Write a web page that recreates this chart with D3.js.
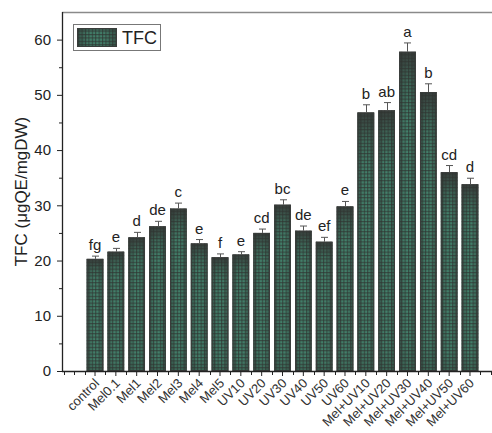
<!DOCTYPE html>
<html>
<head>
<meta charset="utf-8">
<script src="https://cdn.jsdelivr.net/npm/d3@7"></script>
<style>
  html, body { margin: 0; padding: 0; background: #fff; }
  svg { display: block; font-family: "Liberation Sans", Arial, sans-serif; }
</style>
</head>
<body>
<svg id="chart" width="492" height="433"></svg>
<script>
// Treatments along the x axis
const categories = ["control", "Mel0.1", "Mel1", "Mel2", "Mel3", "Mel4", "Mel5",
  "UV10", "UV20", "UV30", "UV40", "UV50", "UV60",
  "Mel+UV10", "Mel+UV20", "Mel+UV30", "Mel+UV40", "Mel+UV50", "Mel+UV60"];
// Mean total flavonoid content (μgQE/mgDW)
const tfcValues = [20.3, 21.6, 24.2, 26.2, 29.4, 23.1, 20.6,
  21.1, 25.0, 30.1, 25.4, 23.4, 29.8,
  46.8, 47.2, 57.8, 50.5, 36.0, 33.8];
// Standard error of each mean
const tfcErrors = [0.5, 0.6, 0.9, 0.9, 1.0, 0.7, 0.6,
  0.5, 0.7, 0.9, 0.85, 0.8, 0.9,
  1.4, 1.4, 1.6, 1.5, 1.2, 1.1];
// Significance letters
const sigLetters = ["fg", "e", "d", "de", "c", "e", "f",
  "e", "cd", "bc", "de", "ef", "e",
  "b", "ab", "a", "b", "cd", "d"];
const yTickValues = [0, 10, 20, 30, 40, 50, 60];
const yMinorValues = [5, 15, 25, 35, 45, 55];
const seriesName = "TFC";
const yTitle = "TFC (μgQE/mgDW)";

const svg = d3.select("#chart");
const plot = { left: 62, right: 491, top: 12, bottom: 371 };

const x = d3.scaleBand()
  .domain(categories)
  .range([84.6, 480.4])
  .paddingInner(0.2)
  .paddingOuter(0.1);
const y = d3.scaleLinear().domain([0, 65]).range([plot.bottom, plot.top]);

// ---- fills: dotted grid texture over a green/grey gradient ----
const defs = svg.append("defs");
const vGrad = defs.append("linearGradient").attr("id", "barV")
  .attr("x1", 0).attr("y1", 0).attr("x2", 0).attr("y2", 1);
[[0, "#383d3b"], [0.1, "#3d6a5a"], [0.2, "#427f6a"], [0.9, "#427f6a"], [1, "#3c6858"]]
  .forEach(([o, c]) => vGrad.append("stop").attr("offset", o).attr("stop-color", c));

const hGrad = defs.append("linearGradient").attr("id", "barH")
  .attr("x1", 0).attr("y1", 0).attr("x2", 1).attr("y2", 0);
[[0, "#2c302e", 0.55], [0.3, "#2c302e", 0.05], [0.5, "#2c302e", 0], [0.7, "#2c302e", 0.05], [1, "#2c302e", 0.55]]
  .forEach(([o, c, a]) => hGrad.append("stop").attr("offset", o).attr("stop-color", c).attr("stop-opacity", a));

const pat = defs.append("pattern").attr("id", "grid")
  .attr("patternUnits", "userSpaceOnUse").attr("width", 3.4).attr("height", 3.4);
pat.append("rect").attr("width", 3.4).attr("height", 1.1).attr("fill", "#2f3431").attr("opacity", 0.7);
pat.append("rect").attr("width", 1.1).attr("height", 3.4).attr("fill", "#2f3431").attr("opacity", 0.7);

function drawFilled(g, x0, y0, w, h) {
  g.append("rect").attr("x", x0).attr("y", y0).attr("width", w).attr("height", h).attr("fill", "url(#barV)");
  g.append("rect").attr("x", x0).attr("y", y0).attr("width", w).attr("height", h).attr("fill", "url(#barH)");
  g.append("rect").attr("x", x0).attr("y", y0).attr("width", w).attr("height", h).attr("fill", "url(#grid)");
  g.append("rect").attr("x", x0 + 0.5).attr("y", y0 + 0.5).attr("width", w - 1).attr("height", h - 1)
    .attr("fill", "none").attr("stroke", "#3a3d3b").attr("stroke-width", 1);
}

// ---- bars ----
const bars = svg.append("g");
categories.forEach((c, i) => {
  const g = bars.append("g");
  drawFilled(g, x(c), y(tfcValues[i]), x.bandwidth(), y(0) - y(tfcValues[i]));
});

// ---- error bars (upper only) ----
const errG = svg.append("g").attr("stroke", "#555").attr("stroke-width", 1);
categories.forEach((c, i) => {
  const cx = Math.round(x(c) + x.bandwidth() / 2) + 0.5;
  const top = y(tfcValues[i] + tfcErrors[i]);
  errG.append("line").attr("x1", cx).attr("x2", cx).attr("y1", y(tfcValues[i])).attr("y2", top);
  errG.append("line").attr("x1", cx - 3.5).attr("x2", cx + 3.5).attr("y1", top).attr("y2", top);
});

// ---- significance letters ----
svg.append("g").selectAll("text").data(categories).join("text")
  .attr("x", c => x(c) + x.bandwidth() / 2)
  .attr("y", (c, i) => y(tfcValues[i] + tfcErrors[i]) - 6)
  .attr("text-anchor", "middle")
  .attr("font-size", 15)
  .attr("fill", "#222")
  .text((c, i) => sigLetters[i]);

// ---- frame ----
svg.append("line").attr("x1", plot.left).attr("x2", 492).attr("y1", plot.top + 0.5).attr("y2", plot.top + 0.5)
  .attr("stroke", "#8a8a8a").attr("stroke-width", 1.5);

// ---- y axis ----
const yAxis = svg.append("g").attr("transform", `translate(${plot.left},0)`)
  .call(d3.axisLeft(y).tickValues(yTickValues).tickSize(5).tickPadding(6).tickSizeOuter(0));
yAxis.select(".domain").remove();
yAxis.selectAll(".tick text").attr("font-size", 15).attr("fill", "#222").attr("font-family", "Liberation Sans, Arial, sans-serif");
yAxis.selectAll(".tick line").attr("stroke", "#222");
const yMinor = svg.append("g").attr("transform", `translate(${plot.left},0)`)
  .call(d3.axisLeft(y).tickValues(yMinorValues).tickSize(3).tickFormat(""));
yMinor.select(".domain").remove();
yMinor.selectAll(".tick line").attr("stroke", "#222");
svg.append("line").attr("x1", plot.left + 0.5).attr("x2", plot.left + 0.5)
  .attr("y1", plot.top).attr("y2", plot.bottom + 0.5).attr("stroke", "#222").attr("stroke-width", 1.3);

// ---- x axis ----
const xAxis = svg.append("g").attr("transform", `translate(0,${plot.bottom})`)
  .call(d3.axisBottom(x).tickSize(5).tickSizeOuter(0));
xAxis.select(".domain").remove();
xAxis.selectAll(".tick line").attr("stroke", "#222");
xAxis.selectAll(".tick text")
  .attr("font-size", 13).attr("fill", "#333")
  .attr("font-family", "Liberation Sans, Arial, sans-serif")
  .attr("text-anchor", "end")
  .attr("dy", null).attr("y", null)
  .attr("transform", "translate(5,13) rotate(-45)");

// minor ticks between categories and in the empty end slots
const step = x.step();
const firstC = x(categories[0]) + x.bandwidth() / 2;
const lastC = x(categories[categories.length - 1]) + x.bandwidth() / 2;
const minorPos = [firstC - 1.5 * step, firstC - step];
categories.forEach(c => minorPos.push(x(c) + x.bandwidth() / 2 - step / 2));
minorPos.push(lastC + step / 2, lastC + step);
svg.append("g").selectAll("line").data(minorPos).join("line")
  .attr("x1", d => Math.round(d) + 0.5).attr("x2", d => Math.round(d) + 0.5)
  .attr("y1", plot.bottom).attr("y2", plot.bottom + 4)
  .attr("stroke", "#222");
svg.append("line").attr("x1", plot.left).attr("x2", 492)
  .attr("y1", plot.bottom + 0.5).attr("y2", plot.bottom + 0.5).attr("stroke", "#222").attr("stroke-width", 1.3);

// ---- y title ----
svg.append("text")
  .attr("transform", `translate(27,${(plot.top + plot.bottom) / 2}) rotate(-90)`)
  .attr("text-anchor", "middle")
  .attr("font-size", 17)
  .attr("fill", "#222")
  .text(yTitle);

// ---- legend ----
const leg = svg.append("g");
leg.append("rect").attr("x", 73.5).attr("y", 24.5).attr("width", 87).attr("height", 26)
  .attr("fill", "#fff").attr("stroke", "#777").attr("stroke-width", 1);
drawFilled(leg, 77, 28, 40, 19);
leg.append("text").attr("x", 122).attr("y", 44).attr("font-size", 18).attr("fill", "#222").text(seriesName);
</script>
</body>
</html>
